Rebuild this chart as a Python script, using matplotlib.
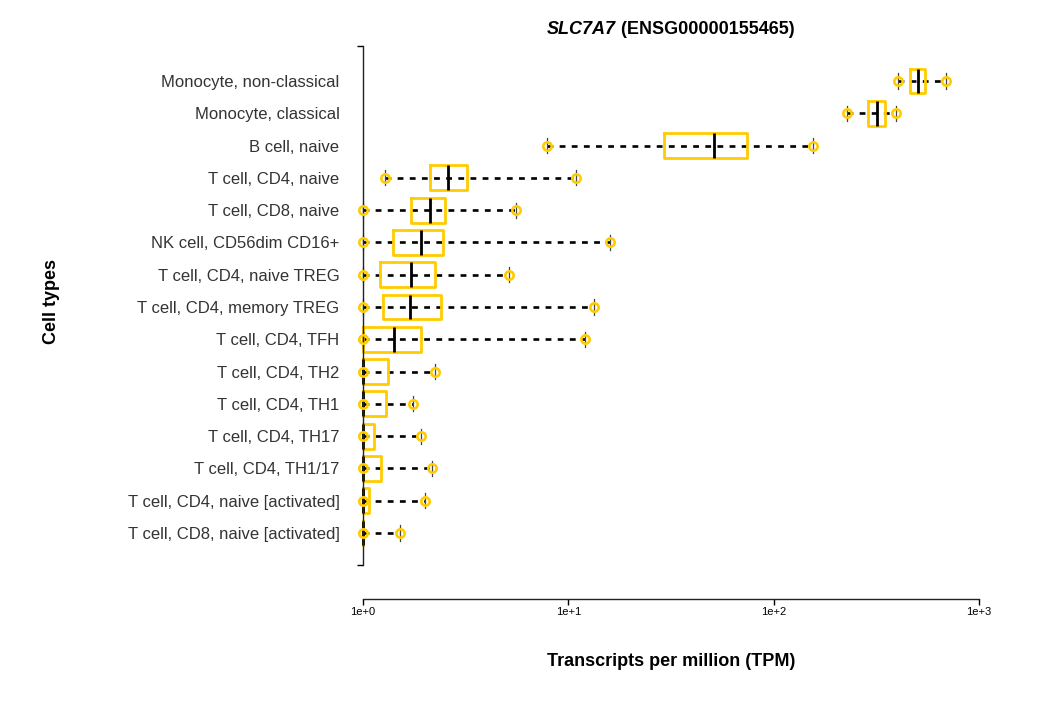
import numpy as np
import matplotlib
matplotlib.use("Agg")
import matplotlib.pyplot as plt

plt.rcParams['font.family'] = ['Liberation Sans', 'DejaVu Sans']

# ----------------------------
# Data (TPM), top row first
# ----------------------------
cell_types = [
    "Monocyte, non-classical",
    "Monocyte, classical",
    "B cell, naive",
    "T cell, CD4, naive",
    "T cell, CD8, naive",
    "NK cell, CD56dim CD16+",
    "T cell, CD4, naive TREG",
    "T cell, CD4, memory TREG",
    "T cell, CD4, TFH",
    "T cell, CD4, TH2",
    "T cell, CD4, TH1",
    "T cell, CD4, TH17",
    "T cell, CD4, TH1/17",
    "T cell, CD4, naive [activated]",
    "T cell, CD8, naive [activated]",
]
tpm_min = [402, 227, 7.9, 1.28, 1.0, 1.0, 1.0, 1.0, 1.0, 1.0, 1.0, 1.0, 1.0, 1.0, 1.0]
tpm_q1 = [462, 288, 29.3, 2.11, 1.71, 1.40, 1.21, 1.25, 1.0, 1.0, 1.0, 1.0, 1.0, 1.0, 1.0]
tpm_med = [507, 320, 51.2, 2.58, 2.12, 1.91, 1.72, 1.69, 1.41, 1.0, 1.0, 1.0, 1.0, 1.0, 1.0]
tpm_q3 = [546, 350, 73.9, 3.21, 2.52, 2.46, 2.25, 2.41, 1.91, 1.32, 1.30, 1.13, 1.22, 1.07, 1.0]
tpm_max = [692, 396, 155, 10.9, 5.54, 16.0, 5.16, 13.3, 12.0, 2.24, 1.76, 1.92, 2.16, 2.01, 1.52]

gene = "SLC7A7"
gene_id = "ENSG00000155465"
tick_vals = [1, 10, 100, 1000]
tick_labels = ["1e+0", "1e+1", "1e+2", "1e+3"]

yellow = "#FFCC00"

# ----------------------------
# Figure / axes geometry (pixels -> figure fractions)
# ----------------------------
W, H = 1037, 709
fig = plt.figure(figsize=(W / 100, H / 100), dpi=100)
ax = fig.add_axes([363 / W, (H - 565) / H, 616 / W, 519 / H])

n = len(cell_types)
pos = np.arange(n)

# dashed line min -> max, runs through the box too
ax.hlines(pos, tpm_min, tpm_max, colors="black", linewidth=1.9,
          linestyles=(0, (2.2, 2.4)), zorder=2)

stats = []
for i in range(n):
    stats.append(dict(med=tpm_med[i], q1=tpm_q1[i], q3=tpm_q3[i],
                      whislo=tpm_min[i], whishi=tpm_max[i], fliers=[]))

bp = ax.bxp(stats, positions=pos, orientation="horizontal", widths=0.77,
            capwidths=0.47, showfliers=False,
            boxprops=dict(color=yellow, linewidth=2.0),
            medianprops=dict(color="black", linewidth=2.0),
            whiskerprops=dict(visible=False),
            capprops=dict(color="#444444", linewidth=0.9))
for artist in bp["boxes"] + bp["medians"] + bp["caps"]:
    artist.set_clip_on(False)

# whisker end markers
ax.plot(tpm_min, pos, "o", ms=6.0, mfc="none", mec=yellow, mew=1.9,
        zorder=4, clip_on=False)
ax.plot(tpm_max, pos, "o", ms=6.0, mfc="none", mec=yellow, mew=1.9,
        zorder=4, clip_on=False)

ax.set_xscale("log")
ax.set_xlim(1, 1000)
ax.set_ylim(n - 1 + 0.99, -1.084)

ax.set_xticks(tick_vals)
ax.set_xticklabels(tick_labels)
ax.xaxis.set_minor_locator(matplotlib.ticker.NullLocator())
ax.tick_params(axis="x", length=4, width=1, pad=2, labelsize=8, colors="black")

ax.set_yticks(pos)
ax.set_yticklabels(cell_types)
ax.tick_params(axis="y", length=0, pad=17, labelsize=12, labelcolor="#333333")
ax.set_yticks([n - 1 + 0.99, -1.084], minor=True)
ax.tick_params(axis="y", which="minor", length=4, width=1)

for s in ["top", "right"]:
    ax.spines[s].set_visible(False)
ax.spines["bottom"].set_position(("outward", 24.5))
ax.spines["left"].set_linewidth(1.0)
ax.spines["bottom"].set_linewidth(1.0)
ax.spines["left"].set_color("#222222")
ax.spines["bottom"].set_color("#222222")

# labels and title
fig.text(671 / W, 1 - 662 / H, "Transcripts per million (TPM)", ha="center",
         va="center", fontsize=13, fontweight="bold")
fig.text(52 / W, 1 - 302 / H, "Cell types", ha="center", va="center",
         rotation=90, fontsize=13, fontweight="bold")
fig.text(616 / W, 1 - 29 / H, gene, ha="right", va="center", fontsize=13,
         fontweight="bold", fontstyle="italic")
fig.text(616 / W, 1 - 29 / H, " (" + gene_id + ")", ha="left", va="center",
         fontsize=13, fontweight="bold")

fig.savefig("out.png", dpi=100)
